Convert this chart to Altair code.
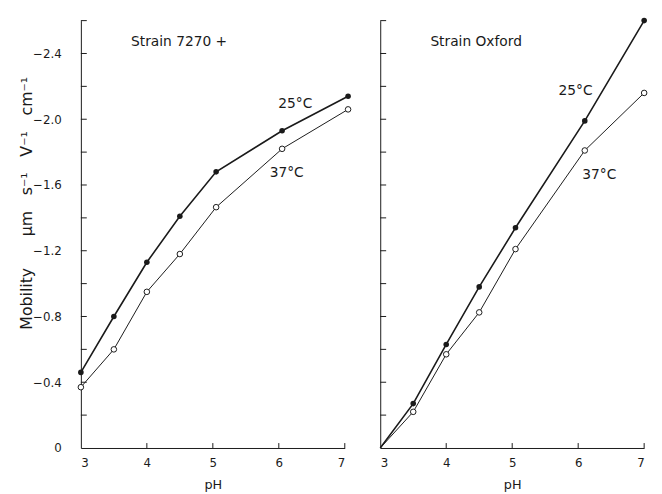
import altair as alt
import pandas as pd

# ---- data ----
ph_left = [3.0, 3.5, 4.0, 4.5, 5.05, 6.05, 7.05]
mob_left_25 = [0.46, 0.80, 1.13, 1.41, 1.68, 1.93, 2.14]
mob_left_37 = [0.37, 0.60, 0.95, 1.18, 1.465, 1.82, 2.06]

ph_right = [3.5, 4.0, 4.5, 5.05, 6.1, 7.0]
mob_right_25 = [0.27, 0.63, 0.98, 1.34, 1.99, 2.60]
mob_right_37 = [0.22, 0.57, 0.825, 1.21, 1.81, 2.16]
right_origin = (3.0, 0.0)  # both right-panel curves start at the origin (no marker)

temps = ["25°C", "37°C"]
panel_titles = ["Strain 7270 +", "Strain Oxford"]
# label anchor positions (pH, mobility)
label_pos_left = {"25°C": (6.25, 2.09), "37°C": (6.12, 1.67)}
label_pos_right = {"25°C": (5.96, 2.17), "37°C": (6.32, 1.66)}
title_pos = (3.76, 2.47)

y_ticks_minor = [0.2 * i for i in range(1, 14)]
y_label_vals = [0, 0.4, 0.8, 1.2, 1.6, 2.0, 2.4]
x_ticks = [4, 5, 6, 7]
x_label_vals = [3, 4, 5, 6, 7]

FONT = "DejaVu Sans"
INK = "#1a1a1a"
W, H = 268, 434
SP = "\u2002"  # en space (not collapsed in SVG)
Y_TITLE = ("Mobility" + SP * 4 + "\u03bcm" + SP * 2 + "s\u207b\u00b9" + SP * 2 + "V\u207b\u00b9"
           + SP * 2 + "cm\u207b\u00b9")


def make_df(ph25, m25, ph37, m37, origin=None):
    rows = []
    if origin is not None:
        rows.append({"temp": "25°C", "ph": origin[0], "mob": origin[1], "marker": False})
        rows.append({"temp": "37°C", "ph": origin[0], "mob": origin[1], "marker": False})
    for p, m in zip(ph25, m25):
        rows.append({"temp": "25°C", "ph": p, "mob": m, "marker": True})
    for p, m in zip(ph37, m37):
        rows.append({"temp": "37°C", "ph": p, "mob": m, "marker": True})
    return pd.DataFrame(rows)


xscale = alt.Scale(domain=[3, 7], nice=False, zero=False)
yscale = alt.Scale(domain=[0, 2.6], nice=False, zero=True)


def panel(df, label_pos, title, left):
    if left:
        yaxis = alt.Axis(
            values=y_label_vals, ticks=False, grid=False, domainColor=INK,
            labelExpr="datum.value == 0 ? '0' : '\u2212' + format(datum.value, '.1f')",
            labelFont=FONT, labelFontSize=12, labelColor=INK, labelPadding=20,
            title=Y_TITLE,
            titleFont=FONT, titleFontSize=16, titleFontWeight="normal", titleColor=INK,
            titleX=-55, titleY=185, titleAngle=-90, titleAlign="center",
            titleBaseline="middle",
        )
    else:
        yaxis = alt.Axis(values=y_label_vals, ticks=False, grid=False, labels=False,
                         title=None, domainColor=INK, minExtent=0)
    xaxis = alt.Axis(
        values=x_label_vals, ticks=False, grid=False, domainColor=INK, format="d",
        labelFont=FONT, labelFontSize=12, labelColor=INK, labelPadding=10,
        title="pH", titleFont=FONT, titleFontSize=13, titleFontWeight="normal",
        titleColor=INK, titlePadding=10,
    )
    base = alt.Chart(df)
    x = alt.X("ph:Q", scale=xscale, axis=xaxis)
    y = alt.Y("mob:Q", scale=yscale, axis=yaxis)
    xs = alt.X("ph:Q", scale=xscale)
    ys = alt.Y("mob:Q", scale=yscale)

    line25 = base.transform_filter(alt.datum.temp == "25°C").mark_line(
        color=INK, strokeWidth=1.6).encode(x=x, y=y, order="ph:Q")
    line37 = base.transform_filter(alt.datum.temp == "37°C").mark_line(
        color=INK, strokeWidth=1.0).encode(x=xs, y=ys, order="ph:Q")
    pts25 = base.transform_filter((alt.datum.temp == "25°C") & alt.datum.marker).mark_point(
        shape="circle", filled=True, color=INK, size=32, opacity=1).encode(x=xs, y=ys)
    pts37 = base.transform_filter((alt.datum.temp == "37°C") & alt.datum.marker).mark_point(
        shape="circle", filled=True, fill="white", stroke=INK, strokeWidth=1,
        size=32, opacity=1).encode(x=xs, y=ys)

    lab_df = pd.DataFrame({"t": temps,
                           "ph": [label_pos[t][0] for t in temps],
                           "mob": [label_pos[t][1] for t in temps]})
    labels = alt.Chart(lab_df).mark_text(font=FONT, fontSize=14, color=INK).encode(
        x=xs, y=ys, text="t:N")

    tdf = pd.DataFrame({"t": [title], "ph": [title_pos[0]], "mob": [title_pos[1]]})
    ttl = alt.Chart(tdf).mark_text(font=FONT, fontSize=14, color=INK, align="left").encode(
        x=xs, y=ys, text="t:N")

    yt = alt.Chart(pd.DataFrame({"v": y_ticks_minor})).mark_rule(color=INK, strokeWidth=1).encode(
        y=alt.Y("v:Q", scale=yscale), x=alt.value(0), x2=alt.value(6))
    xt = alt.Chart(pd.DataFrame({"v": x_ticks})).mark_rule(color=INK, strokeWidth=1).encode(
        x=alt.X("v:Q", scale=xscale), y=alt.value(H), y2=alt.value(H - 5))

    return alt.layer(line25, line37, pts25, pts37, labels, ttl, yt, xt).properties(
        width=W, height=H)


left_df = make_df(ph_left, mob_left_25, ph_left, mob_left_37)
right_df = make_df(ph_right, mob_right_25, ph_right, mob_right_37, origin=right_origin)

chart = alt.hconcat(
    panel(left_df, label_pos_left, panel_titles[0], True),
    panel(right_df, label_pos_right, panel_titles[1], False),
    spacing=23,
).configure_view(stroke=None).properties(
    background="white",
    padding={"left": 11, "top": 5, "right": 5, "bottom": 5},
)

chart.save("out.html", embed_options={"renderer": "svg", "actions": False})
